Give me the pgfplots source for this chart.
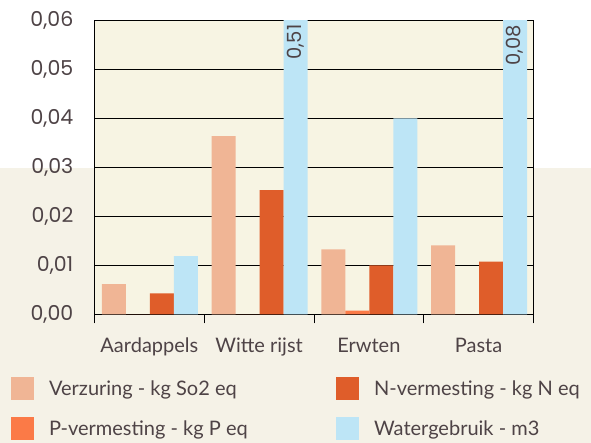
\documentclass[border=0pt]{standalone}
\usepackage{pgfplots}
\pgfplotsset{compat=1.18}
\usepackage{fontspec}
\setmainfont{Lato}
\newfontfamily\numfont{Poppins}
\usetikzlibrary{calc}
\definecolor{verz}{HTML}{F0B595}
\definecolor{pver}{HTML}{FB7A47}
\definecolor{nver}{HTML}{DF5D2A}
\definecolor{water}{HTML}{BDE5F6}
\definecolor{plotbg}{HTML}{F7F4E3}
\definecolor{pagebg}{HTML}{F5F2E7}
\definecolor{txt}{HTML}{4E4346}
\begin{document}
\begin{tikzpicture}[x=1pt,y=1pt]
\useasboundingbox (0,0) rectangle (591,443);
\fill[white] (0,0) rectangle (591,443);
\fill[pagebg] (0,0) rectangle (591,275);
\begin{axis}[
  at={(94.5pt,128.5pt)}, anchor=south west,
  scale only axis, width=439pt, height=294pt,
  xmin=-0.5, xmax=3.5, ymin=0, ymax=0.06,
  axis background/.style={fill=plotbg},
  axis line style={black, line width=0.9pt},
  xtick={-0.5,0.5,1.5,2.5,3.5},
  x tick label as interval,
  xticklabels={Aardappels,Witte rijst,Erwten,Pasta},
  xtick pos=bottom, tick align=outside, major tick length=9pt,
  x tick style={black, line width=0.9pt},
  x tick label style={font=\fontsize{20}{20}\selectfont, text=txt, anchor=base, inner sep=0pt, yshift=-29pt},
  ytick={0,0.01,0.02,0.03,0.04,0.05,0.06},
  scaled y ticks=false,
  y tick style={draw=none},
  ymajorgrids, grid style={black, line width=0.9pt},
  y tick label style={/pgf/number format/.cd, fixed, fixed zerofill, precision=2, use comma, assume math mode=true, /tikz/.cd, font=\numfont\fontsize{20.5}{20.5}\selectfont, text=txt, inner sep=0pt, anchor=east, xshift=-12pt},
  legend columns=2,
  legend cell align=left,
  legend style={at={(-0.190,-0.2126)}, anchor=north west, draw=none, fill=none, inner sep=0pt, outer sep=0pt,
    font=\fontsize{20}{24}\selectfont, text=txt,
    /tikz/every odd column/.style={column sep=15pt}, /tikz/row sep=17pt, nodes={inner sep=0pt}},
  legend image code/.code={\fill[#1] (0pt,-11.5pt) rectangle (23pt,11.5pt);},
]
\addplot[ybar, bar width=24pt, bar shift=-35.5pt, fill=verz, draw=none]
  coordinates {(0,0.0062) (1,0.0364) (2,0.0133) (3,0.0141)};
\addlegendentry{\makebox[287pt][l]{Verzuring - kg So2 eq}}
\addplot[ybar, bar width=24pt, bar shift=12.5pt, fill=nver, draw=none]
  coordinates {(0,0.0043) (1,0.0254) (2,0.0100) (3,0.0108)};
\addlegendentry{N-vermesting - kg N eq}
\addplot[ybar, bar width=24pt, bar shift=-11.5pt, fill=pver, draw=none]
  coordinates {(0,0) (1,0) (2,0.0008) (3,0)};
\addlegendentry{\makebox[287pt][l]{P-vermesting - kg P eq}}
\addplot[ybar, bar width=24pt, bar shift=36.5pt, fill=water, draw=none]
  coordinates {(0,0.0119) (1,0.51) (2,0.0400) (3,0.08)};
\addlegendentry{Watergebruik - m3}
\node[rotate=90, anchor=east, inner sep=0pt, font=\numfont\fontsize{19.5}{19.5}\selectfont, text=txt]
  at ($(axis cs:1,0.06)+(36.5pt,-4pt)$) {0,51};
\node[rotate=90, anchor=east, inner sep=0pt, font=\numfont\fontsize{19.5}{19.5}\selectfont, text=txt]
  at ($(axis cs:3,0.06)+(36.5pt,-4pt)$) {0,08};
\end{axis}
\end{tikzpicture}
\end{document}
